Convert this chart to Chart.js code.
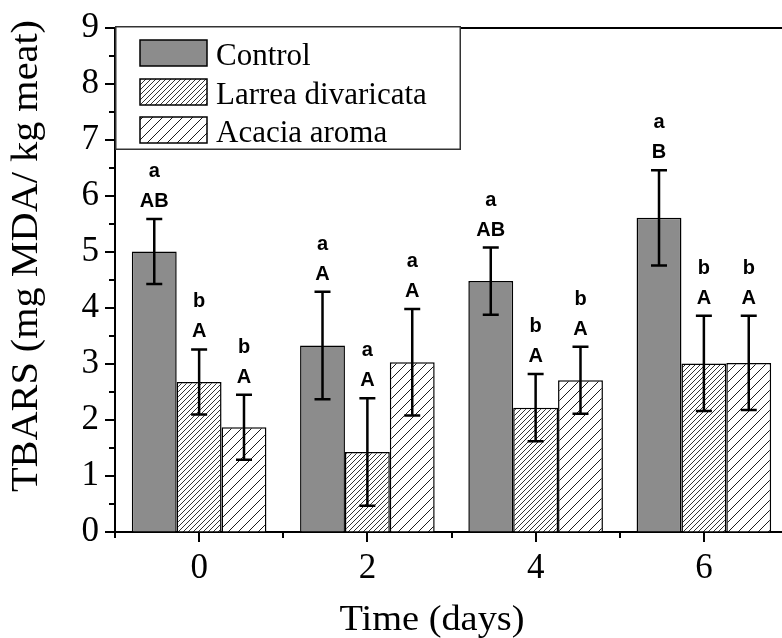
<!DOCTYPE html>
<html><head><meta charset="utf-8">
<script src="https://cdn.jsdelivr.net/npm/chart.js@4.4.1/dist/chart.umd.min.js"></script>
<style>html,body{margin:0;padding:0;background:#fff;overflow:hidden;width:782px;height:638px}canvas{display:block}</style>
</head><body><canvas id="c" width="790" height="638"></canvas>
<script>
// ---- data ----
const days = [0, 2, 4, 6];
const seriesNames = ['Control', 'Larrea divaricata', 'Acacia aroma'];
const control = [5.01, 3.33, 4.48, 5.61];
const controlErr = [0.58, 0.96, 0.60, 0.85];
const larrea = [2.68, 1.43, 2.22, 3.01];
const larreaErr = [0.58, 0.96, 0.60, 0.85];
const acacia = [1.87, 3.03, 2.71, 3.02];
const acaciaErr = [0.58, 0.95, 0.60, 0.84];
const controlLower = ['a', 'a', 'a', 'a'];
const controlUpper = ['AB', 'A', 'AB', 'B'];
const larreaLower = ['b', 'a', 'b', 'b'];
const larreaUpper = ['A', 'A', 'A', 'A'];
const acaciaLower = ['b', 'a', 'b', 'b'];
const acaciaUpper = ['A', 'A', 'A', 'A'];
const yTickValues = [0, 1, 2, 3, 4, 5, 6, 7, 8, 9];
const xAxisTitle = 'Time (days)';
const yAxisTitle = 'TBARS (mg MDA/ kg meat)';

const errs = [controlErr, larreaErr, acaciaErr];
const lowers = [controlLower, larreaLower, acaciaLower];
const uppers = [controlUpper, larreaUpper, acaciaUpper];

const canvas = document.getElementById('c');
const ctx = canvas.getContext('2d');
function hatch(s, lw) {
  const c = document.createElement('canvas');
  c.width = s; c.height = s;
  const g = c.getContext('2d');
  g.fillStyle = '#fff'; g.fillRect(0, 0, s, s);
  g.strokeStyle = '#000'; g.lineWidth = lw;
  g.beginPath();
  g.moveTo(-1, s + 1); g.lineTo(s + 1, -1);
  g.moveTo(-2, 2); g.lineTo(2, -2);
  g.moveTo(s - 2, s + 2); g.lineTo(s + 2, s - 2);
  g.stroke();
  return ctx.createPattern(c, 'repeat');
}
const fills = ['#8c8c8c', hatch(5, 0.8), hatch(10, 0.9)];

const SERIF = '"Liberation Serif", "Times New Roman", serif';
const SANS = '"Liberation Sans", Arial, sans-serif';

const overlay = {
  id: 'overlay',
  afterDatasetsDraw(chart) {
    const c = chart.ctx, y = chart.scales.y;
    c.save();
    chart.data.datasets.forEach((ds, di) => {
      const meta = chart.getDatasetMeta(di);
      meta.data.forEach((bar, i) => {
        const v = ds.data[i].y, e = errs[di][i];
        const yt = y.getPixelForValue(v + e), yb = y.getPixelForValue(v - e);
        c.strokeStyle = '#000'; c.lineWidth = 2.5;
        c.beginPath();
        c.moveTo(bar.x, yt); c.lineTo(bar.x, yb);
        c.moveTo(bar.x - 8, yt); c.lineTo(bar.x + 8, yt);
        c.moveTo(bar.x - 8, yb); c.lineTo(bar.x + 8, yb);
        c.stroke();
        c.fillStyle = '#000';
        c.font = 'bold 20px ' + SANS;
        c.textAlign = 'center'; c.textBaseline = 'alphabetic';
        c.fillText(uppers[di][i], bar.x, yt - 12);
        c.fillText(lowers[di][i], bar.x, yt - 42);
      });
    });
    c.restore();
  },
  afterDraw(chart) {
    const c = chart.ctx, a = chart.chartArea, xs = chart.scales.x, ys = chart.scales.y;
    c.save();
    c.strokeStyle = '#000'; c.lineWidth = 2;
    // top frame
    c.beginPath(); c.moveTo(a.left, a.top); c.lineTo(a.right + 2, a.top); c.stroke();
    // y ticks
    c.beginPath();
    for (let v = 0; v <= 9.001; v += 0.5) {
      const p = Math.round(ys.getPixelForValue(v));
      const len = Math.abs(v - Math.round(v)) < 1e-6 ? 10 : 6;
      c.moveTo(a.left, p); c.lineTo(a.left - len, p);
    }
    // x ticks
    for (let v = -1; v <= 7; v += 1) {
      const p = Math.round(xs.getPixelForValue(v));
      const len = days.includes(v) ? 10 : 6;
      c.moveTo(p, a.bottom); c.lineTo(p, a.bottom + len);
    }
    c.stroke();
    // legend
    const lx = a.left, ly = a.top - 2, lw = 346, lh = 124;
    c.fillStyle = '#fff'; c.fillRect(lx, ly, lw, lh);
    c.strokeStyle = '#333'; c.lineWidth = 1.5;
    c.strokeRect(lx + 0.75, ly + 0.75, lw - 1.5, lh - 1.5);
    const rowsTop = [40, 79, 117];
    chart.data.datasets.forEach((ds, di) => {
      const sy = rowsTop[di];
      c.fillStyle = fills[di];
      c.fillRect(a.left + 25, sy, 67, 26);
      c.strokeStyle = '#000'; c.lineWidth = 1.5;
      c.strokeRect(a.left + 25, sy, 67, 26);
      c.fillStyle = '#000';
      c.font = '31px ' + SERIF;
      c.textAlign = 'left'; c.textBaseline = 'alphabetic';
      c.fillText(ds.label, a.left + 101, sy + 25);
    });
    // axis titles
    c.fillStyle = '#000';
    c.font = '35px ' + SERIF;
    c.textAlign = 'center'; c.textBaseline = 'alphabetic';
    let w = c.measureText(xAxisTitle).width;
    c.save(); c.translate(432, 630); c.scale(185 / w, 1); c.fillText(xAxisTitle, 0, 0); c.restore();
    c.font = '37px ' + SERIF;
    w = c.measureText(yAxisTitle).width;
    c.save(); c.translate(37, 256); c.rotate(-Math.PI / 2); c.scale(472 / w, 1); c.fillText(yAxisTitle, 0, 0); c.restore();
    c.restore();
  }
};

function noPad(s) { s.paddingTop = 0; s.paddingBottom = 0; s.paddingLeft = 0; s.paddingRight = 0; }

new Chart(canvas, {
  type: 'bar',
  data: {
    datasets: [
      { label: seriesNames[0], data: days.map((d, i) => ({ x: d, y: control[i] })), backgroundColor: fills[0], borderColor: '#000', borderWidth: 1.5 },
      { label: seriesNames[1], data: days.map((d, i) => ({ x: d, y: larrea[i] })), backgroundColor: fills[1], borderColor: '#000', borderWidth: 1.5 },
      { label: seriesNames[2], data: days.map((d, i) => ({ x: d, y: acacia[i] })), backgroundColor: fills[2], borderColor: '#000', borderWidth: 1.5 }
    ]
  },
  options: {
    responsive: false, animation: false, devicePixelRatio: 1,
    layout: { padding: { top: 28, right: 2, left: 0, bottom: 0 } },
    plugins: { legend: { display: false }, tooltip: { enabled: false } },
    datasets: { bar: { categoryPercentage: 1.6, barPercentage: 1 } },
    scales: {
      x: {
        type: 'linear', min: -1, max: 7, offset: false,
        grid: { display: true, drawOnChartArea: false, drawTicks: false, offset: false },
        border: { color: '#000', width: 2 },
        ticks: { stepSize: 1, autoSkip: false, maxRotation: 0, color: '#000', padding: 16,
          font: { family: SERIF, size: 35 },
          callback: v => days.includes(v) ? String(v) : '' },
        afterFit: s => { s.height = 106; noPad(s); }
      },
      y: {
        min: 0, max: 9,
        grid: { display: true, drawOnChartArea: false, drawTicks: false },
        border: { color: '#000', width: 2 },
        ticks: { stepSize: 1, autoSkip: false, color: '#000', padding: 16,
          font: { family: SERIF, size: 35 },
          callback: v => yTickValues.includes(v) ? String(v) : '' },
        afterFit: s => { s.width = 115; noPad(s); }
      }
    }
  },
  plugins: [overlay]
});
</script>
</body></html>
